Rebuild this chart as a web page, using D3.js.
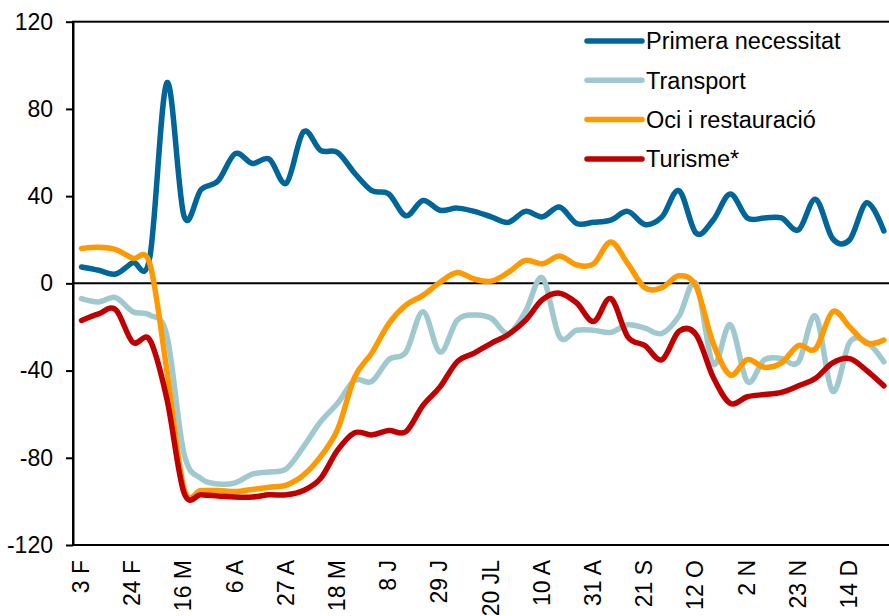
<!DOCTYPE html>
<html>
<head>
<meta charset="utf-8">
<script src="https://cdn.jsdelivr.net/npm/d3@7"></script>
<style>
  html, body { margin: 0; padding: 0; background: #fff; }
  svg { display: block; font-family: Arial, "Liberation Sans", sans-serif; }
</style>
</head>
<body>
<svg id="chart"></svg>
<script>
const width = 889
const height = 616
const margin = { top: 21.7, right: -3.4, bottom: 71, left: 73 }

// weekly categories (Mondays), only every third one is labelled on the axis
const weeks = [
  '3 F', '10 F', '17 F', '24 F', '2 M', '9 M', '16 M', '23 M', '30 M', '6 A',
  '13 A', '20 A', '27 A', '4 M', '11 M', '18 M', '25 M', '1 J', '8 J', '15 J',
  '22 J', '29 J', '6 JL', '13 JL', '20 JL', '27 JL', '3 A', '10 A', '17 A', '24 A',
  '31 A', '7 S', '14 S', '21 S', '28 S', '5 O', '12 O', '19 O', '26 O', '2 N',
  '9 N', '16 N', '23 N', '30 N', '7 D', '14 D', '21 D', '28 D'
]
const tickLabels = ['3 F', '24 F', '16 M', '6 A', '27 A', '18 M', '8 J', '29 J',
  '20 JL', '10 A', '31 A', '21 S', '12 O', '2 N', '23 N', '14 D']
const yTicks = [-120, -80, -40, 0, 40, 80, 120]

const seriesNames = ['Primera necessitat', 'Transport', 'Oci i restauració', 'Turisme*']

const primeraNecessitat = [
  7.5, 6, 4.3, 9.5, 12, 92, 31, 43, 47, 59.5,
  55, 57, 46, 69.5, 61, 60, 50.5, 42.5, 41, 31,
  38, 33.5, 34.5, 33, 30.5, 28, 33, 30.5, 35, 27.5,
  28, 29, 33, 27, 30.5, 42.5, 23, 29, 41, 30,
  30, 30, 24.5, 38.5, 20.5, 20, 37, 24
]
const transport = [
  -7, -8.5, -6.5, -13, -14.5, -24, -78, -89.5, -92, -91.5,
  -87.5, -86.5, -85, -75, -63.5, -55, -44.5, -45, -35, -31.5,
  -13, -31.5, -17, -14.5, -16, -23, -13, 2.5, -24.5, -21.5,
  -21.5, -22.5, -19, -20.5, -23, -15, 0, -37, -19, -45,
  -35, -34.5, -36, -15, -49.5, -27, -27, -36
]
const ociRestauracio = [
  16, 16.5, 15.5, 11.5, 9, -40, -94, -95, -95, -95.5,
  -94.5, -93.5, -92.5, -88, -79.5, -67, -43, -32, -18.5, -10,
  -5.5, 0.5, 5, 2, 1, 5, 10.5, 9, 12.5, 8.5,
  9, 19, 9, -2, -2, 3.5, -1.5, -27.5, -42, -35,
  -38.5, -36.5, -28.5, -30, -13, -20, -27.5, -26
]
const turisme = [
  -17, -14, -12, -27, -26, -53, -96, -97, -97.5, -98,
  -98, -97, -97, -95, -89.5, -76.5, -68.5, -69.5, -67.5, -68,
  -56, -47.5, -36, -32, -27.5, -23.5, -17, -7.5, -4.5, -9,
  -17.5, -7, -24.5, -28.5, -35, -22, -23.5, -43, -55, -52,
  -51, -50, -47, -43.5, -36.5, -34.5, -40, -47
]

const colors = ['#006699', '#9fc9ce', '#ff9900', '#c00000']
const seriesValues = [primeraNecessitat, transport, ociRestauracio, turisme]

const svg = d3.select('#chart')
  .attr('width', width)
  .attr('height', height)

const x = d3.scaleBand()
  .domain(weeks)
  .range([margin.left, width - margin.right])
  .padding(0)

const y = d3.scaleLinear()
  .domain([-120, 120])
  .range([height - margin.bottom, margin.top])

const cx = (w) => x(w) + x.bandwidth() / 2

// plot frame
svg.append('rect')
  .attr('x', margin.left)
  .attr('y', y(120))
  .attr('width', x.range()[1] - margin.left)
  .attr('height', y(-120) - y(120))
  .attr('fill', 'none')
  .attr('stroke', '#000')
  .attr('stroke-width', 2)

// zero line
svg.append('line')
  .attr('x1', margin.left)
  .attr('x2', x.range()[1])
  .attr('y1', y(0))
  .attr('y2', y(0))
  .attr('stroke', '#000')
  .attr('stroke-width', 2)

// y axis (plain hyphen minus like the original)
const yAxis = svg.append('g')
  .attr('transform', `translate(${margin.left},0)`)
  .call(d3.axisLeft(y).tickValues(yTicks).tickFormat((d) => String(d))
    .tickSize(7).tickSizeOuter(0).tickPadding(13))

yAxis.select('.domain').attr('stroke-width', 2)
yAxis.selectAll('.tick line').attr('stroke-width', 2)
yAxis.selectAll('text')
  .attr('font-size', 23)
  .attr('font-family', 'Arial, "Liberation Sans", sans-serif')
  .attr('fill', '#000')

// x axis, labels rotated
const xAxis = svg.append('g')
  .attr('transform', `translate(0,${y(-120)})`)
  .call(d3.axisBottom(x).tickValues(tickLabels).tickSize(0).tickSizeOuter(0))

xAxis.select('.domain').remove()
xAxis.selectAll('text')
  .attr('font-size', 23)
  .attr('font-family', 'Arial, "Liberation Sans", sans-serif')
  .attr('fill', '#000')
  .attr('text-anchor', 'end')
  .attr('transform', 'rotate(-90)')
  .attr('x', -15)
  .attr('y', 0)
  .attr('dy', '0.32em')

// series lines (smoothed like the original)
const line = d3.line()
  .x((d, i) => cx(weeks[i]))
  .y((d) => y(d))
  .curve(d3.curveCardinal.tension(0))

const plot = svg.append('g')

seriesValues.forEach((vals, k) => {
  plot.append('path')
    .datum(vals)
    .attr('d', line)
    .attr('fill', 'none')
    .attr('stroke', colors[k])
    .attr('stroke-width', 5.5)
    .attr('stroke-linejoin', 'round')
    .attr('stroke-linecap', 'round')
})

// legend
const legend = svg.append('g')
  .attr('transform', 'translate(587,41)')

seriesNames.forEach((name, k) => {
  const row = legend.append('g')
    .attr('transform', `translate(0,${k * 39.3})`)
  row.append('line')
    .attr('x1', 0)
    .attr('x2', 55)
    .attr('stroke', colors[k])
    .attr('stroke-width', 5.5)
    .attr('stroke-linecap', 'round')
  row.append('text')
    .attr('x', 59)
    .attr('dy', '0.35em')
    .attr('font-size', 23.5)
    .attr('fill', '#000')
    .text(name)
})
</script>
</body>
</html>
